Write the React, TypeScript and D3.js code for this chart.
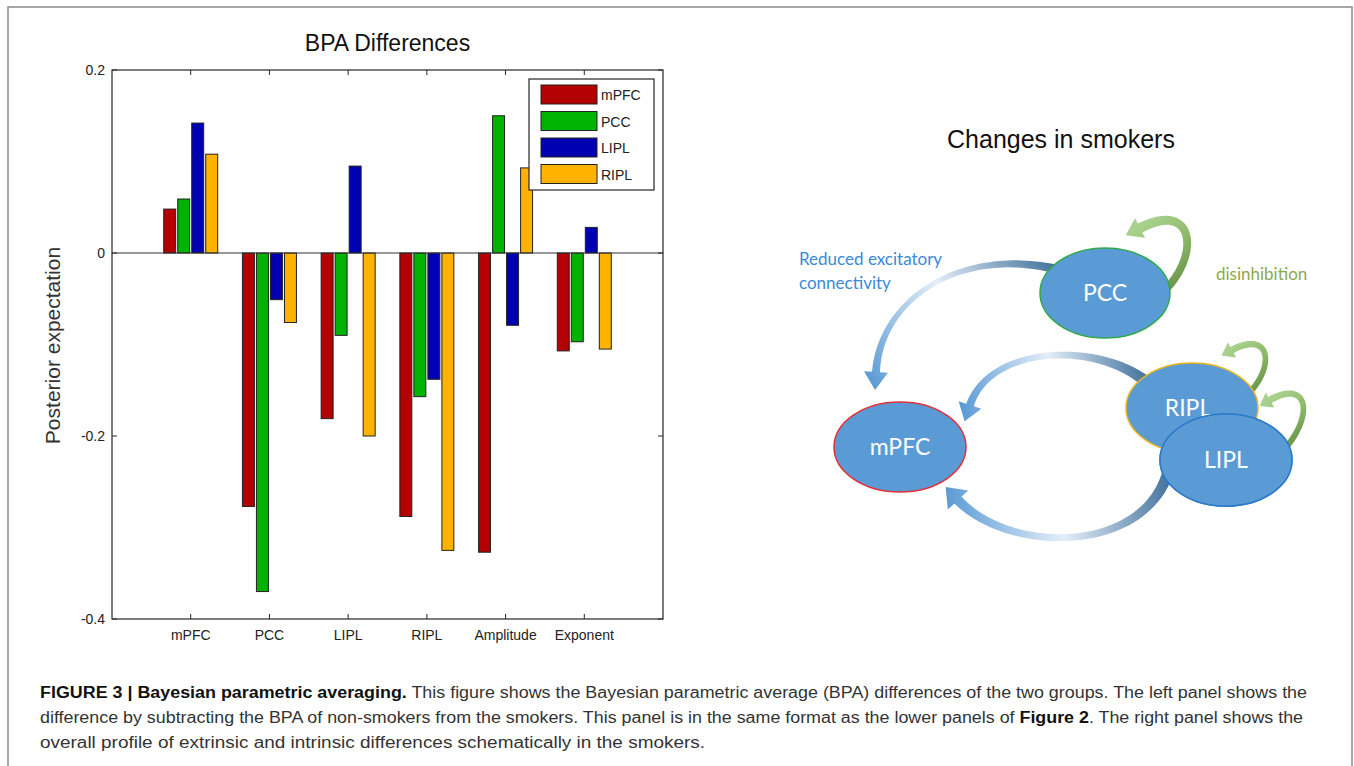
import React from "react";
import * as d3 from "d3";

// bar chart values
const categories = ["mPFC", "PCC", "LIPL", "RIPL", "Amplitude", "Exponent"];
const seriesNames = ["mPFC", "PCC", "LIPL", "RIPL"];
const mpfcValues = [0.048, -0.277, -0.181, -0.288, -0.327, -0.107];
const pccValues = [0.059, -0.37, -0.09, -0.157, 0.15, -0.097];
const liplValues = [0.142, -0.051, 0.095, -0.138, -0.079, 0.028];
const riplValues = [0.108, -0.076, -0.2, -0.325, 0.093, -0.105];
const yTicks = [-0.4, -0.2, 0, 0.2];
const yTickLabels = ["-0.4", "-0.2", "0", "0.2"];
const seriesColors = ["#b30000", "#00b300", "#0000b3", "#ffb300"];

const allSeries = [mpfcValues, pccValues, liplValues, riplValues];

type Pt = [number, number];

function bez(p: Pt[], t: number): Pt {
  const u = 1 - t;
  const a = u * u * u, b = 3 * u * u * t, c = 3 * u * t * t, d = t * t * t;
  return [
    a * p[0][0] + b * p[1][0] + c * p[2][0] + d * p[3][0],
    a * p[0][1] + b * p[1][1] + c * p[2][1] + d * p[3][1],
  ];
}

// tapered curved arrow, like the office-style block arrows
function taperedArrow(p: Pt[], w0: number, wm: number, w1: number, headLen: number, headW: number) {
  const n = 60;
  const left: Pt[] = [];
  const right: Pt[] = [];
  for (let i = 0; i <= n; i++) {
    const t = i / n;
    const a = bez(p, Math.max(0, t - 0.005));
    const b = bez(p, Math.min(1, t + 0.005));
    let dx = b[0] - a[0], dy = b[1] - a[1];
    const len = Math.hypot(dx, dy) || 1;
    dx /= len; dy /= len;
    const w = (w0 * (1 - t) * (1 - t) + 2 * wm * t * (1 - t) + w1 * t * t) / 2;
    const c = bez(p, t);
    left.push([c[0] - dy * w, c[1] + dx * w]);
    right.push([c[0] + dy * w, c[1] - dx * w]);
  }
  const e = p[3];
  let tx = p[3][0] - p[2][0], ty = p[3][1] - p[2][1];
  const tl = Math.hypot(tx, ty);
  tx /= tl; ty /= tl;
  const tip: Pt = [e[0] + tx * headLen, e[1] + ty * headLen];
  const hl: Pt = [e[0] - ty * headW / 2, e[1] + tx * headW / 2];
  const hr: Pt = [e[0] + ty * headW / 2, e[1] - tx * headW / 2];
  const pts = [...left, hl, tip, hr, ...right.reverse()];
  const d = d3.line()(pts as [number, number][]) + "Z";
  return { d, start: p[0], tip };
}

const arrows = [
  { id: "a1", pts: [[1060, 270], [960, 245], [880, 300], [876, 372]] as Pt[], w: [9, 2, 8], head: [18, 24], stops: ["#41719c", "#e4eef8", "#5b9bd5"] },
  { id: "a2", pts: [[1150, 385], [1100, 340], [990, 345], [970, 405]] as Pt[], w: [12, 3, 8], head: [17, 24], stops: ["#41719c", "#e4eef8", "#5b9bd5"] },
  { id: "a3", pts: [[1170, 465], [1150, 555], [1010, 555], [958, 500]] as Pt[], w: [12, 3, 10], head: [18, 28], stops: ["#41719c", "#e4eef8", "#5b9bd5"] },
  { id: "g1", pts: [[1165, 290], [1200, 255], [1195, 200], [1140, 228]] as Pt[], w: [8, 7, 10], head: [16, 22], stops: ["#6f9a4e", "#8fbb6c", "#a9d18e"] },
  { id: "g2", pts: [[1250, 392], [1275, 365], [1270, 330], [1232, 350]] as Pt[], w: [6, 5, 7], head: [12, 17], stops: ["#6f9a4e", "#8fbb6c", "#a9d18e"] },
  { id: "g3", pts: [[1288, 445], [1315, 410], [1305, 380], [1270, 400]] as Pt[], w: [6, 5, 7], head: [12, 17], stops: ["#6f9a4e", "#8fbb6c", "#a9d18e"] },
];

const nodes = [
  { label: "RIPL", cx: 1192, cy: 408, rx: 66, ry: 45, stroke: "#e8b520" },
  { label: "LIPL", cx: 1226, cy: 460, rx: 66, ry: 46, stroke: "#2e7bc8" },
  { label: "PCC", cx: 1105, cy: 293, rx: 65, ry: 45, stroke: "#2fa84f" },
  { label: "mPFC", cx: 900, cy: 447, rx: 66, ry: 45, stroke: "#e0303a" },
];

export default function App() {
  const W = 1354, H = 766;
  const left = 112, right = 663, top = 70, bottom = 619;
  const x = d3.scaleLinear().domain([0, categories.length + 1]).range([left, right]);
  const y = d3.scaleLinear().domain([-0.4, 0.2]).range([bottom, top]);
  const step = 0.178, barW = 0.152;
  const tickFont = "'Liberation Sans', Arial, sans-serif";
  const axisColor = "#262626";

  return (
    <svg width={W} height={H} style={{ position: "absolute", left: 0, top: 0, display: "block", background: "#fff" }}>
      <rect x={8} y={7} width={1344} height={800} fill="#fff" stroke="#8a8a8a" strokeWidth={1.5} />

      {/* left panel: bar chart */}
      <text x={(left + right) / 2} y={51} textAnchor="middle" fontFamily={tickFont} fontSize={23} fill="#111">BPA Differences</text>

      {allSeries.map((vals, si) => (
        <g key={si}>
          {vals.map((v, ci) => {
            const cx = ci + 1 + (si - 1.5) * step;
            const x0 = x(cx - barW / 2), x1 = x(cx + barW / 2);
            const ya = y(Math.max(0, v)), yb = y(Math.min(0, v));
            return <rect key={ci} x={x0} y={ya} width={x1 - x0} height={yb - ya} fill={seriesColors[si]} stroke="#222" strokeWidth={1} />;
          })}
        </g>
      ))}

      <line x1={left} x2={right} y1={y(0)} y2={y(0)} stroke="#333" strokeWidth={1.2} />
      <rect x={left} y={top} width={right - left} height={bottom - top} fill="none" stroke={axisColor} strokeWidth={1.2} />

      {categories.map((c, i) => (
        <g key={c}>
          <line x1={x(i + 1)} x2={x(i + 1)} y1={bottom} y2={bottom - 5} stroke={axisColor} />
          <line x1={x(i + 1)} x2={x(i + 1)} y1={top} y2={top + 5} stroke={axisColor} />
          <text x={x(i + 1)} y={640} textAnchor="middle" fontFamily={tickFont} fontSize={14} fill="#222">{c}</text>
        </g>
      ))}
      {yTicks.map((t, i) => (
        <g key={t}>
          <line x1={left} x2={left + 5} y1={y(t)} y2={y(t)} stroke={axisColor} />
          <line x1={right} x2={right - 5} y1={y(t)} y2={y(t)} stroke={axisColor} />
          <text x={105} y={y(t) + 5} textAnchor="end" fontFamily={tickFont} fontSize={14} fill="#222">{yTickLabels[i]}</text>
        </g>
      ))}
      <text transform={`translate(60, ${(top + bottom) / 2 + 1}) rotate(-90)`} textAnchor="middle" fontFamily={tickFont} fontSize={21} fill="#333">Posterior expectation</text>

      {/* legend */}
      <rect x={529} y={79} width={125} height={111} fill="#fff" stroke={axisColor} strokeWidth={1.2} />
      {seriesNames.map((s, i) => (
        <g key={s} transform={`translate(541, ${85 + i * 26.5})`}>
          <rect x={0} y={0} width={56} height={19} fill={seriesColors[i]} stroke="#222" strokeWidth={1} />
          <text x={60} y={15} fontFamily={tickFont} fontSize={14} fill="#222">{s}</text>
        </g>
      ))}

      {/* right panel: schematic */}
      <text x={1061} y={148} textAnchor="middle" fontFamily={tickFont} fontSize={25} fill="#111">Changes in smokers</text>
      <defs>
        {arrows.map(a => {
          const r = taperedArrow(a.pts, a.w[0], a.w[1], a.w[2], a.head[0], a.head[1]);
          return (
            <linearGradient key={a.id} id={"grad-" + a.id} gradientUnits="userSpaceOnUse" x1={r.start[0]} y1={r.start[1]} x2={r.tip[0]} y2={r.tip[1]}>
              <stop offset="0" stopColor={a.stops[0]} />
              <stop offset="0.5" stopColor={a.stops[1]} />
              <stop offset="1" stopColor={a.stops[2]} />
            </linearGradient>
          );
        })}
      </defs>
      {arrows.map(a => {
        const r = taperedArrow(a.pts, a.w[0], a.w[1], a.w[2], a.head[0], a.head[1]);
        return <path key={a.id} d={r.d} fill={`url(#grad-${a.id})`} />;
      })}
      {nodes.map(n => (
        <g key={n.label}>
          <ellipse cx={n.cx} cy={n.cy} rx={n.rx} ry={n.ry} fill="#5b9bd5" stroke={n.stroke} strokeWidth={1.5} />
          <text x={n.cx - (n.label === "RIPL" ? 4 : 0)} y={n.cy + 8} textAnchor="middle" fontFamily="Lato, 'Open Sans', sans-serif" fontSize={23} fill="#fff">{n.label}</text>
        </g>
      ))}
      {/* LIPL drawn again on top so it covers the RIPL label */}
      <ellipse cx={1226} cy={460} rx={66} ry={46} fill="#5b9bd5" stroke="#2e7bc8" strokeWidth={1.5} />
      <text x={1226} y={468} textAnchor="middle" fontFamily="Lato, 'Open Sans', sans-serif" fontSize={23} fill="#fff">LIPL</text>

      <text fontFamily="Lato, 'Open Sans', sans-serif" fontSize={17} fill="#3a8ad6">
        <tspan x={799} y={265}>Reduced excitatory</tspan>
        <tspan x={799} y={289}>connectivity</tspan>
      </text>
      <text x={1216} y={280} fontFamily="Lato, 'Open Sans', sans-serif" fontSize={17} fill="#8ea84c">disinhibition</text>

      {/* caption */}
      <g fontFamily={tickFont} fontSize={16} fill="#333">
        <text x={40} y={698} textLength={1267} lengthAdjust="spacingAndGlyphs">
          <tspan fontWeight="bold" fill="#111">FIGURE 3 | Bayesian parametric averaging.</tspan>
          <tspan> This figure shows the Bayesian parametric average (BPA) differences of the two groups. The left panel shows the</tspan>
        </text>
        <text x={40} y={723} textLength={1263} lengthAdjust="spacingAndGlyphs">
          <tspan>difference by subtracting the BPA of non-smokers from the smokers. This panel is in the same format as the lower panels of </tspan>
          <tspan fontWeight="bold" fill="#111">Figure 2</tspan>
          <tspan>. The right panel shows the</tspan>
        </text>
        <text x={40} y={748} textLength={665} lengthAdjust="spacingAndGlyphs">overall profile of extrinsic and intrinsic differences schematically in the smokers.</text>
      </g>
    </svg>
  );
}
